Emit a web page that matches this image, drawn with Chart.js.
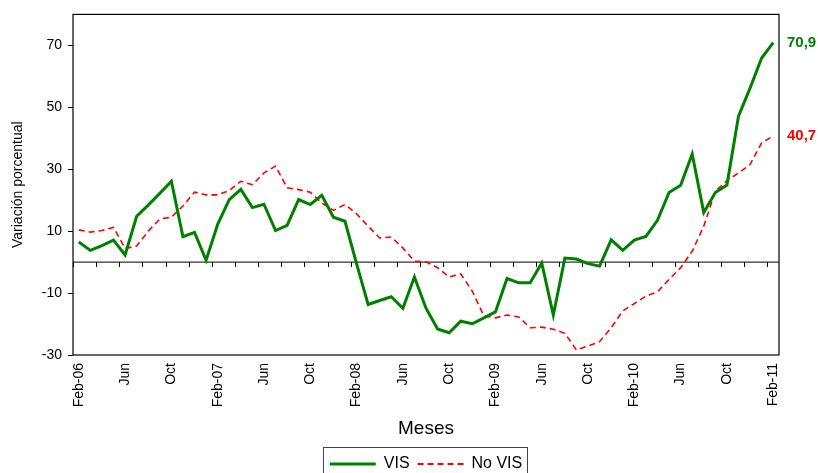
<!DOCTYPE html>
<html>
<head>
<meta charset="utf-8">
<script src="https://cdn.jsdelivr.net/npm/chart.js@4"></script>
<style>
  html, body { margin: 0; padding: 0; background: #fff; }
  #wrap { width: 818px; height: 473px; }
</style>
</head>
<body>
<div id="wrap"><canvas id="chart" width="818" height="473"></canvas></div>
<script>
const months = [
  "Feb-06","Mar-06","Apr-06","May-06","Jun-06","Jul-06","Aug-06","Sep-06","Oct-06","Nov-06","Dec-06","Jan-07",
  "Feb-07","Mar-07","Apr-07","May-07","Jun-07","Jul-07","Aug-07","Sep-07","Oct-07","Nov-07","Dec-07","Jan-08",
  "Feb-08","Mar-08","Apr-08","May-08","Jun-08","Jul-08","Aug-08","Sep-08","Oct-08","Nov-08","Dec-08","Jan-09",
  "Feb-09","Mar-09","Apr-09","May-09","Jun-09","Jul-09","Aug-09","Sep-09","Oct-09","Nov-09","Dec-09","Jan-10",
  "Feb-10","Mar-10","Apr-10","May-10","Jun-10","Jul-10","Aug-10","Sep-10","Oct-10","Nov-10","Dec-10","Jan-11",
  "Feb-11"
];

const vis = [
  6.5, 3.8, 5.3, 7.1, 2.3, 14.8, 18.4, 22.2, 26.1, 8.2, 9.6, 0.6,
  12.2, 20.2, 23.5, 17.6, 18.7, 10.2, 11.9, 20.2, 18.6, 21.6, 14.5, 13.2,
  -0.5, -13.7, -12.4, -11.2, -14.9, -4.8, -14.9, -21.6, -22.8, -19.1, -19.9, -18.0,
  -16.1, -5.3, -6.7, -6.7, -0.3, -17.1, 1.3, 1.0, -0.5, -1.3, 7.2, 3.8,
  7.1, 8.3, 13.5, 22.5, 24.8, 34.9, 16.0, 22.5, 24.9, 47.1, 56.2, 65.9,
  70.9
];

const noVis = [
  10.4, 9.7, 10.2, 11.2, 4.4, 5.2, 10.0, 13.9, 14.5, 18.1, 22.6, 21.7,
  21.7, 23.1, 26.1, 25.0, 28.8, 31.0, 24.0, 23.4, 22.6, 19.1, 16.7, 18.6,
  15.6, 11.6, 7.8, 8.1, 4.6, 0.3, 0.1, -1.8, -4.8, -3.8, -9.4, -17.4,
  -18.0, -17.1, -17.7, -21.2, -21.0, -21.7, -23.0, -28.4, -27.1, -25.7, -21.2, -15.8,
  -13.4, -11.0, -9.6, -5.6, -1.8, 3.5, 11.6, 22.9, 26.3, 28.8, 31.5, 38.5,
  40.7
];

const yTicks = [-30, -10, 10, 30, 50, 70];

const SANS = "'Liberation Sans', Arial, sans-serif";
const NARROW = "'Liberation Sans Narrow', 'Liberation Sans', Arial, sans-serif";
Chart.defaults.font.family = SANS;
Chart.defaults.color = "#000";

// zero line with its tick marks, plot frame, end labels, legend frame
const decorations = {
  id: "decorations",
  beforeDraw(chart) {
    // centre the legend under the plot area rather than the whole canvas
    const lg = chart.legend;
    const shift = (chart.chartArea.left + chart.chartArea.right) / 2 - (lg.left + lg.right) / 2;
    lg.left += shift;
    lg.right += shift;
    lg.legendHitBoxes.forEach((h) => { h.left += shift; });
  },
  beforeDatasetsDraw(chart) {
    const { ctx, chartArea, scales } = chart;
    const y0 = scales.y.getPixelForValue(0);
    const step = scales.x.getPixelForValue(1) - scales.x.getPixelForValue(0);
    ctx.save();
    ctx.strokeStyle = "#000";
    ctx.lineWidth = 1;
    ctx.beginPath();
    ctx.moveTo(chartArea.left, y0);
    ctx.lineTo(chartArea.right, y0);
    for (let i = 0; i <= months.length; i += 2) {
      const x = Math.round(scales.x.getPixelForValue(i) - step / 2) + 0.5;
      ctx.moveTo(x, y0);
      ctx.lineTo(x, y0 + 5);
    }
    ctx.stroke();
    ctx.restore();
  },
  afterDraw(chart) {
    const { ctx, chartArea, scales } = chart;
    ctx.save();
    ctx.strokeStyle = "#000";
    ctx.lineWidth = 1.2;
    ctx.strokeRect(chartArea.left, chartArea.top, chartArea.right - chartArea.left, chartArea.bottom - chartArea.top);

    ctx.font = "bold 15px " + SANS;
    ctx.textBaseline = "middle";
    ctx.textAlign = "left";
    chart.data.datasets.forEach((ds) => {
      const last = ds.data[ds.data.length - 1];
      ctx.fillStyle = ds.borderColor;
      ctx.fillText(last.toFixed(1).replace(".", ","), chartArea.right + 8, scales.y.getPixelForValue(last));
    });

    const boxes = chart.legend.legendHitBoxes;
    if (boxes && boxes.length) {
      const left = Math.min(...boxes.map((b) => b.left)) - 7;
      const right = Math.max(...boxes.map((b) => b.left + b.width)) + 5;
      ctx.strokeStyle = "#444";
      ctx.lineWidth = 1;
      ctx.strokeRect(Math.round(left) + 0.5, 447.5, Math.round(right - left), 60);
    }
    ctx.restore();
  }
};

new Chart(document.getElementById("chart"), {
  type: "line",
  data: {
    labels: months,
    datasets: [
      {
        label: "VIS",
        data: vis,
        borderColor: "#008000",
        backgroundColor: "#008000",
        borderWidth: 3,
        pointRadius: 0,
        tension: 0
      },
      {
        label: "No VIS",
        data: noVis,
        borderColor: "#ff0000",
        backgroundColor: "#ff0000",
        borderWidth: 1.6,
        borderDash: [6, 4],
        pointRadius: 0,
        tension: 0
      }
    ]
  },
  options: {
    responsive: false,
    animation: false,
    layout: { padding: { top: 13, right: 39, left: 0, bottom: -9 } },
    plugins: {
      tooltip: { enabled: false },
      legend: {
        position: "bottom",
        labels: {
          usePointStyle: true,
          pointStyle: "line",
          pointStyleWidth: 46,
          boxHeight: 15,
          padding: 8,
          color: "#000",
          font: { family: NARROW, size: 16 },
          generateLabels(chart) {
            return chart.data.datasets.map((ds, i) => ({
              text: ds.label,
              datasetIndex: i,
              fillStyle: ds.borderColor,
              strokeStyle: ds.borderColor,
              lineWidth: ds.borderWidth === 3 ? 3 : 2,
              lineDash: ds.borderDash || [],
              pointStyle: "line",
              fontColor: "#000",
              hidden: false
            }));
          }
        }
      }
    },
    scales: {
      x: {
        offset: true,
        grid: { display: false, drawTicks: false },
        border: { display: false },
        ticks: {
          autoSkip: false,
          minRotation: 90,
          maxRotation: 90,
          padding: 8,
          font: { size: 14 },
          callback(value, index) {
            if (index % 4 !== 0) return "";
            const name = months[index];
            return name.startsWith("Feb") ? name : name.slice(0, 3);
          }
        },
        title: {
          display: true,
          text: "Meses",
          font: { family: NARROW, size: 19 },
          padding: { top: 6, bottom: 8 }
        },
        afterFit(scale) { scale.height = 93; }
      },
      y: {
        min: -30,
        max: 80,
        afterBuildTicks(scale) { scale.ticks = yTicks.map((v) => ({ value: v })); },
        grid: { drawOnChartArea: false, drawTicks: true, tickLength: 5, color: "#000" },
        border: { display: false },
        ticks: { padding: 6, font: { size: 14 } },
        title: {
          display: true,
          text: "Variación porcentual",
          font: { size: 14 },
          padding: { top: 10, bottom: 0 }
        },
        afterFit(scale) { scale.width = 73; }
      }
    }
  },
  plugins: [decorations]
});
</script>
</body>
</html>
